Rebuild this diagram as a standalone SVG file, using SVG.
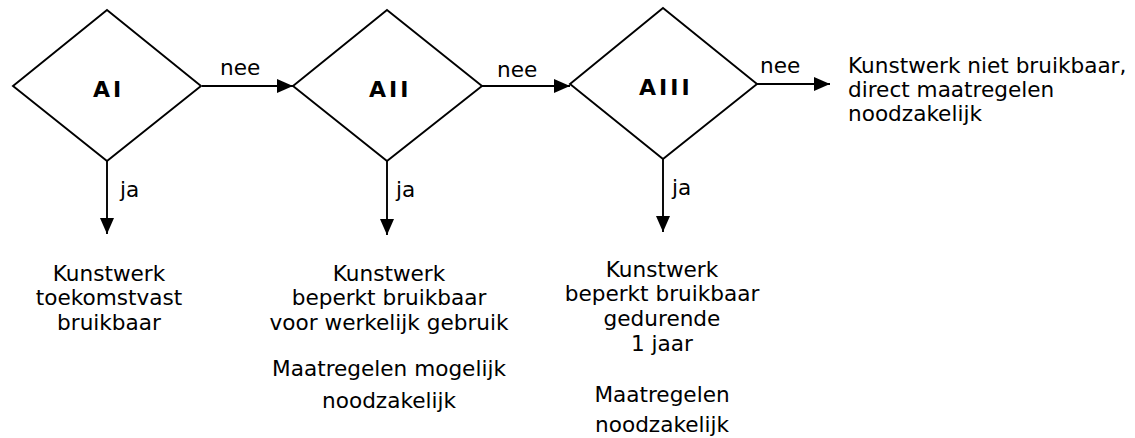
<svg xmlns="http://www.w3.org/2000/svg" width="1135" height="438" viewBox="0 0 1135 438">
<style>
.shape{fill:#fff;stroke:#000;stroke-width:1.9}
.conn{fill:none;stroke:#000;stroke-width:1.9}
.t{font-family:"DejaVu Sans",Verdana,sans-serif;font-size:21.6px;fill:#000}
.c{text-anchor:middle}
.b{font-family:"DejaVu Sans",Verdana,sans-serif;font-size:22px;font-weight:bold;letter-spacing:3px;fill:#000}
</style>
<defs>
<marker id="ah" markerUnits="userSpaceOnUse" markerWidth="16" markerHeight="14" viewBox="0 0 16 14" refX="16" refY="7" orient="auto">
<path d="M0,0 L16,7 L0,14 z" fill="#000"/>
</marker>
</defs>
<rect width="1135" height="438" fill="#fff"/>
<g id="connectors">
<line class="conn" x1="202" y1="86" x2="293" y2="86" marker-end="url(#ah)"/>
<line class="conn" x1="482" y1="86" x2="570" y2="86" marker-end="url(#ah)"/>
<line class="conn" x1="757" y1="84" x2="830" y2="84" marker-end="url(#ah)"/>
<line class="conn" x1="107" y1="161" x2="107" y2="234" marker-end="url(#ah)"/>
<line class="conn" x1="387" y1="161" x2="387" y2="235" marker-end="url(#ah)"/>
<line class="conn" x1="663" y1="159" x2="663" y2="232" marker-end="url(#ah)"/>
<text class="t" x="220" y="75">nee</text>
<text class="t" x="497" y="77">nee</text>
<text class="t" x="760" y="73">nee</text>
<text class="t" x="120" y="197">ja</text>
<text class="t" x="396" y="197">ja</text>
<text class="t" x="672" y="195">ja</text>
</g>
<g id="AI">
<polygon class="shape" points="107,10 201,86 107,161 13,86"/>
<text class="b" x="93" y="97">AI</text>
</g>
<g id="AII">
<polygon class="shape" points="387,10 482,86 387,161 293,86"/>
<text class="b" x="369" y="97">AII</text>
</g>
<g id="AIII">
<polygon class="shape" points="663,8 757,84 663,159 570,84"/>
<text class="b" x="639" y="95">AIII</text>
</g>
<g id="niet-bruikbaar">
<text class="t" x="848" y="73">Kunstwerk niet bruikbaar,</text>
<text class="t" x="848" y="97">direct maatregelen</text>
<text class="t" x="848" y="121">noodzakelijk</text>
</g>
<g id="toekomstvast">
<text class="t c" x="109" y="281">Kunstwerk</text>
<text class="t c" x="109" y="305">toekomstvast</text>
<text class="t c" x="109" y="330">bruikbaar</text>
</g>
<g id="beperkt-werkelijk">
<text class="t c" x="389" y="281">Kunstwerk</text>
<text class="t c" x="389" y="305">beperkt bruikbaar</text>
<text class="t c" x="389" y="330">voor werkelijk gebruik</text>
<text class="t c" x="389" y="376">Maatregelen mogelijk</text>
<text class="t c" x="389" y="408">noodzakelijk</text>
</g>
<g id="beperkt-1jaar">
<text class="t c" x="662" y="277">Kunstwerk</text>
<text class="t c" x="662" y="301">beperkt bruikbaar</text>
<text class="t c" x="662" y="326">gedurende</text>
<text class="t c" x="662" y="351">1 jaar</text>
<text class="t c" x="662" y="402">Maatregelen</text>
<text class="t c" x="662" y="432">noodzakelijk</text>
</g>
</svg>
